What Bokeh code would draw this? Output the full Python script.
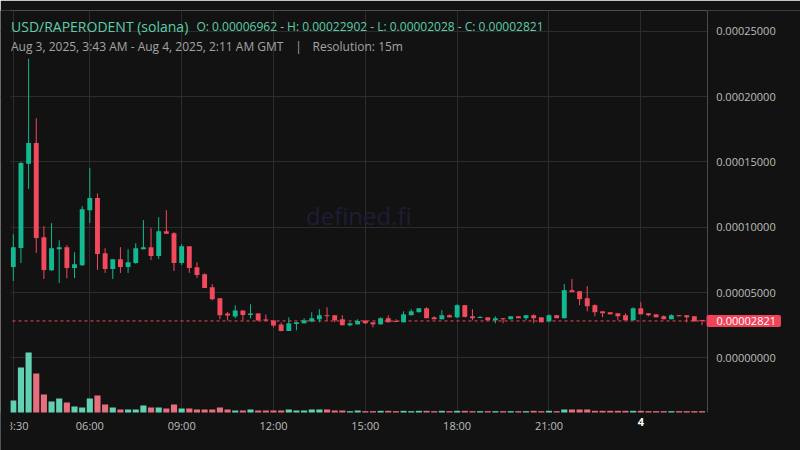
import numpy as np
import pandas as pd
from bokeh.plotting import figure
from bokeh.models import (Range1d, FixedTicker, PrintfTickFormatter, Span, Label,
                          ColumnDataSource, BoxAnnotation, LinearAxis)
from bokeh.embed import file_html
from bokeh.resources import INLINE

# ---------------- data ----------------
PAIR = "USD/RAPERODENT (solana)"
OHLC_TEXT = "O: 0.00006962 - H: 0.00022902 - L: 0.00002028 - C: 0.00002821"
RANGE_TEXT = "Aug 3, 2025, 3:43 AM - Aug 4, 2025, 2:11 AM GMT"
SEP_TEXT = "|"
RES_TEXT = "Resolution: 15m"
WATERMARK = "defined.fi"
LAST_PRICE = 0.00002821
LAST_PRICE_TEXT = "0.00002821"

PRICE_UNIT = 1e-5  # values below are in units of 0.00001 USD

opens = [6.962, 8.41, 14.86, 16.44, 9.23, 6.70, 8.31, 8.47, 6.88, 7.08,
         11.30, 12.23, 8.00, 6.80, 7.54, 6.96, 7.26, 8.31, 8.47, 7.80,
         9.69, 9.54, 7.26, 8.54, 6.93, 6.39, 5.40, 4.56, 3.39, 3.17,
         3.63, 3.27, 3.40, 2.94, 2.86, 2.55, 2.05, 2.59, 2.64, 2.79,
         2.95, 3.26, 3.26, 2.95, 2.49, 2.56, 2.85, 2.72, 2.56, 3.03,
         2.82, 2.72, 3.26, 3.49, 3.79, 3.10, 2.95, 3.26, 3.10, 4.03,
         3.18, 3.05, 3.10, 2.87, 3.03, 2.95, 3.18, 3.03, 3.26, 3.10,
         2.79, 3.26, 3.03, 5.18, 5.10, 4.56, 4.03, 3.56, 3.49, 3.41,
         3.26, 2.87, 3.79, 3.41, 3.33, 3.18, 2.95, 3.26, 3.26, 3.18,
         2.87]
highs = [9.46, 14.99, 22.902, 18.34, 10.08, 10.31, 9.00, 8.62, 8.08, 11.61,
         14.53, 12.58, 8.39, 7.54, 8.47, 8.31, 8.77, 10.54, 9.92, 10.77,
         11.30, 9.62, 8.70, 8.54, 7.31, 6.47, 5.63, 4.56, 3.50, 4.02,
         3.63, 4.10, 3.40, 3.32, 2.86, 2.70, 3.10, 2.72, 3.03, 3.49,
         3.72, 3.87, 3.26, 3.26, 2.72, 2.95, 2.87, 2.74, 3.10, 3.26,
         2.95, 3.56, 3.72, 3.80, 3.87, 3.18, 3.64, 3.33, 4.10, 4.05,
         3.72, 3.18, 3.10, 3.18, 3.03, 3.18, 3.18, 3.26, 3.33, 3.10,
         3.33, 3.26, 5.64, 6.03, 5.10, 5.49, 4.10, 3.56, 3.49, 3.41,
         3.41, 3.87, 4.26, 3.41, 3.33, 3.26, 3.33, 3.26, 3.26, 3.18,
         2.87]
lows = [5.88, 7.26, 12.94, 8.03, 6.04, 6.65, 5.73, 6.09, 6.11, 7.03,
        10.31, 6.73, 6.50, 6.04, 6.50, 6.50, 7.19, 8.31, 7.49, 7.57,
        9.49, 6.65, 7.11, 6.50, 6.11, 5.35, 4.40, 2.95, 2.85, 3.02,
        2.86, 3.02, 2.80, 2.84, 2.32, 2.028, 2.05, 2.10, 2.64, 2.72,
        2.72, 2.82, 2.72, 2.49, 2.41, 2.56, 2.60, 2.33, 2.56, 2.72,
        2.74, 2.72, 3.26, 3.47, 3.03, 2.95, 2.95, 3.10, 3.03, 3.10,
        2.87, 3.03, 2.87, 2.64, 2.64, 2.95, 3.03, 2.87, 2.64, 2.72,
        2.72, 3.03, 3.03, 5.03, 4.03, 3.56, 3.18, 3.10, 3.33, 2.87,
        2.87, 2.87, 3.33, 3.18, 3.10, 2.95, 2.95, 3.18, 2.72, 2.79,
        2.49]
closes = [8.47, 14.91, 16.44, 9.18, 6.73, 8.39, 8.47, 6.88, 7.16, 11.38,
          12.23, 7.95, 6.80, 7.54, 6.96, 7.31, 8.39, 8.47, 7.80, 9.69,
          9.49, 7.26, 8.54, 6.88, 6.34, 5.35, 4.48, 3.26, 3.24, 3.63,
          3.27, 3.40, 2.86, 2.84, 2.47, 2.05, 2.64, 2.72, 2.87, 3.03,
          3.26, 3.18, 2.87, 2.49, 2.64, 2.82, 2.64, 2.56, 3.03, 2.72,
          2.74, 3.33, 3.56, 3.79, 3.03, 2.95, 3.26, 3.10, 4.03, 3.13,
          3.03, 3.10, 2.87, 3.03, 2.95, 3.18, 3.03, 3.26, 3.03, 2.72,
          3.26, 3.03, 5.18, 5.03, 4.49, 3.95, 3.49, 3.41, 3.33, 3.18,
          2.87, 3.79, 3.33, 3.26, 3.10, 2.95, 3.26, 3.18, 3.10, 2.79,
          2.821]
volumes = [36, 135, 180, 117, 54, 33, 42, 30, 18, 15,
           42, 51, 24, 15, 9, 9, 9, 21, 15, 15,
           12, 24, 12, 12, 9, 9, 9, 15, 9, 6,
           6, 9, 6, 6, 6, 6, 9, 6, 6, 9,
           9, 9, 6, 6, 4, 6, 4, 4, 5, 5,
           4, 5, 4, 5, 5, 4, 5, 4, 5, 5,
           4, 4, 4, 4, 4, 4, 4, 4, 5, 4,
           5, 4, 9, 9, 9, 9, 5, 5, 5, 5,
           5, 5, 5, 4, 4, 4, 4, 4, 4, 4,
           4]

price_ticks = [0.0, 0.00005, 0.0001, 0.00015, 0.0002, 0.00025]
time_tick_hours = [3.5, 6, 9, 12, 15, 18, 21, 24]
time_tick_labels = ["03:30", "06:00", "09:00", "12:00", "15:00", "18:00", "21:00", "4"]

# ---------------- styling ----------------
BG = "#121212"
GRID = "#2c2c2c"
UP = "#12b88f"
DOWN = "#f2495c"
VOL_UP = "#62d0b2"
VOL_DOWN = "#e66f7e"
TITLE_C = "#5ccfaa"
SUB_C = "#a4a4a4"
TICK_C = "#bdbdbd"
FONT = "Open Sans"

# page geometry -> data helpers (layout only)
X0, PX_PER_H = 12.8, 30.61          # page x of 03:30, pixels per hour
Y0, PX_PER_5E5 = 357.3, 65.3         # page y of price 0, pixels per 0.00005
def hx(page_x):
    return 3.5 + (page_x - X0) / PX_PER_H
def py(page_y):
    return (Y0 - page_y) / PX_PER_5E5 * 0.00005

W, H = 800, 450
FRAME_TOP, PANE_BOTTOM, PANE_LEFT = 10, 412, 10
AXIS_X = hx(706.7)

day0 = pd.Timestamp("2025-08-03 00:00")
times = pd.date_range("2025-08-03 03:30", periods=len(opens), freq="15min")
hours = ((times - day0) / pd.Timedelta(hours=1)).to_numpy()

o = np.array(opens) * PRICE_UNIT
h = np.array(highs) * PRICE_UNIT
l = np.array(lows) * PRICE_UNIT
c = np.array(closes) * PRICE_UNIT
up = c >= o
min_body = 0.08 * PRICE_UNIT
btop = np.maximum(o, c)
bbot = np.minimum(o, c)
thin = (btop - bbot) < min_body
btop = np.where(thin, bbot + min_body, btop)

src = ColumnDataSource(dict(
    x=hours, top=btop, bottom=bbot, high=h, low=l,
    color=[UP if u else DOWN for u in up],
    vol=volumes,
    vcolor=[VOL_UP if u else VOL_DOWN for u in up],
))

p = figure(width=W, height=H, output_backend="svg", toolbar_location=None,
           title=None, y_axis_location="right",
           x_range=Range1d(hx(0), hx(W)), y_range=Range1d(py(H), py(FRAME_TOP)),
           min_border_left=0, min_border_right=0, min_border_top=FRAME_TOP,
           min_border_bottom=0,
           background_fill_color=BG, border_fill_color=BG, outline_line_color=None)

# volume scale: tallest bar 60 px high, bars standing on the pane bottom
vol_per_px = max(volumes) / 60.0
p.extra_y_ranges = {"vol": Range1d(-(H - PANE_BOTTOM) * vol_per_px,
                                   (PANE_BOTTOM - FRAME_TOP) * vol_per_px)}

def style_time_axis(ax, color, bold=False):
    ax.fixed_location = py(PANE_BOTTOM)
    ax.axis_line_color = None
    ax.major_tick_line_color = None
    ax.minor_tick_line_color = None
    ax.major_label_text_color = color
    ax.major_label_text_font = FONT
    ax.major_label_text_font_size = "11px"
    ax.major_label_text_font_style = "bold" if bold else "normal"
    ax.major_label_standoff = -1

# time axis (placed at the bottom of the pane)
xa = p.xaxis[0]
xa.ticker = FixedTicker(ticks=time_tick_hours[:-1])
xa.major_label_overrides = {t: lab for t, lab in zip(time_tick_hours[:-1], time_tick_labels[:-1])}
style_time_axis(xa, TICK_C)

# day boundary label (bold, white)
day_axis = LinearAxis(ticker=FixedTicker(ticks=time_tick_hours[-1:]),
                      major_label_overrides={time_tick_hours[-1]: time_tick_labels[-1]})
style_time_axis(day_axis, "#ffffff", bold=True)
p.add_layout(day_axis, "below")

# price axis drawn at the right edge of the candle pane
ya = p.yaxis[0]
ya.ticker = FixedTicker(ticks=price_ticks)
ya.formatter = PrintfTickFormatter(format="%.8f")
ya.fixed_location = AXIS_X
ya.bounds = (py(PANE_BOTTOM), py(FRAME_TOP))
ya.axis_line_color = "#4a4a4a"
ya.major_tick_line_color = None
ya.minor_tick_line_color = None
ya.major_label_text_color = TICK_C
ya.major_label_text_font = FONT
ya.major_label_text_font_size = "11px"
ya.major_label_standoff = 3

p.xgrid.ticker = FixedTicker(ticks=time_tick_hours)
p.xgrid.grid_line_color = GRID
p.ygrid.grid_line_color = GRID

# last price line (under glyphs), then masks outside the pane
p.add_layout(Span(location=LAST_PRICE, dimension="width", line_color=DOWN,
                  line_dash="3 3", line_width=1, level="underlay"))
p.add_layout(BoxAnnotation(left=AXIS_X, fill_color=BG, fill_alpha=1.0, line_color=None,
                           level="underlay"))
p.add_layout(BoxAnnotation(top=py(PANE_BOTTOM), fill_color=BG, fill_alpha=1.0, line_color=None,
                           level="underlay"))

# volume
p.vbar(x="x", width=0.2, top="vol", bottom=0, y_range_name="vol",
       fill_color="vcolor", line_color=None, source=src)

# candles
p.segment(x0="x", y0="low", x1="x", y1="high", line_color="color", line_width=1, source=src)
p.vbar(x="x", width=0.16, top="top", bottom="bottom", fill_color="color", line_color=None, source=src)

# chart area starts a few pixels in from the left edge
p.add_layout(BoxAnnotation(right=hx(PANE_LEFT), fill_color=BG, fill_alpha=1.0, line_color=None,
                           level="overlay"))

# header texts
def add_text(text, page_x, page_y, color, size, align="left"):
    p.add_layout(Label(x=hx(page_x), y=py(page_y), text=text,
                       text_color=color, text_font=FONT, text_font_size=size,
                       text_align=align, text_baseline="alphabetic"))

add_text(PAIR, 10.5, 25.7, TITLE_C, "14px")
add_text(OHLC_TEXT, 196, 25.7, TITLE_C, "12px")
add_text(RANGE_TEXT, 10.5, 45.7, SUB_C, "12px")
add_text(SEP_TEXT, 298, 45.7, SUB_C, "12px", align="center")
add_text(RES_TEXT, 312, 45.7, SUB_C, "12px")
add_text(WATERMARK, 358.3, 214.5, "#1e1d36", "24px", align="center")

# last price tag (padding: left, right, top, bottom)
p.add_layout(Label(x=hx(706), y=LAST_PRICE, text=LAST_PRICE_TEXT,
                   text_color="#ffffff", text_font=FONT, text_font_size="11px",
                   text_align="left", text_baseline="middle",
                   background_fill_color="#f0435a", padding=(10, 5, 2, 2), border_radius=2))

open("out.html", "w").write(file_html(p, INLINE))
